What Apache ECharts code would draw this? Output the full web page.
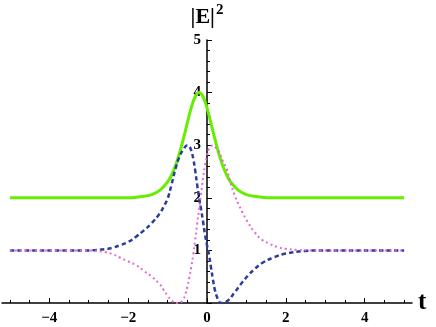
<!DOCTYPE html>
<html><head><meta charset="utf-8">
<script src="https://cdn.jsdelivr.net/npm/echarts@6/dist/echarts.min.js"></script>
<style>html,body{margin:0;padding:0;background:#fff}#c{width:436px;height:327px}</style>
</head><body><div id="c"></div>
<script>
var tGreen = [-5,-3,-2,-1.8,-1.6,-1.4,-1.2,-1.0,-0.9,-0.8,-0.7,-0.6,-0.5,-0.4,-0.3,-0.2,-0.1,0,0.1,0.2,0.3,0.4,0.5,0.6,0.8,1.0,1.2,1.4,1.6,3,5];
var vGreen = [2,2,2,2.01,2.03,2.06,2.14,2.3,2.43,2.61,2.84,3.12,3.42,3.71,3.92,4.0,3.92,3.71,3.42,3.12,2.84,2.61,2.43,2.3,2.14,2.06,2.03,2.01,2.0,2,2];
var tBlue = [-5,-3,-2.6,-2.4,-2.2,-2.0,-1.8,-1.6,-1.4,-1.2,-1.1,-1.0,-0.9,-0.8,-0.7,-0.6,-0.5,-0.45,-0.4,-0.35,-0.3,-0.25,-0.2,-0.15,-0.1,-0.05,0,0.05,0.1,0.15,0.2,0.25,0.3,0.35,0.45,0.55,0.7,0.8,0.9,1.05,1.2,1.4,1.7,2.0,2.5,3.0,5];
var vBlue = [1,1,1.02,1.05,1.1,1.16,1.26,1.38,1.52,1.7,1.83,1.98,2.25,2.55,2.78,2.92,3.0,2.98,2.9,2.75,2.52,2.25,2.0,1.78,1.55,1.3,1.1,0.92,0.68,0.45,0.25,0.12,0.04,0.0,0.01,0.06,0.2,0.3,0.4,0.53,0.64,0.76,0.87,0.94,0.99,1.0,1];
var tPink = [-5,-3,-2.6,-2.4,-2.2,-2.0,-1.8,-1.6,-1.4,-1.2,-1.1,-1.0,-0.9,-0.8,-0.7,-0.6,-0.55,-0.5,-0.45,-0.4,-0.35,-0.3,-0.25,-0.2,-0.15,-0.1,-0.05,0,0.05,0.1,0.15,0.2,0.3,0.4,0.5,0.6,0.7,0.8,0.9,1.0,1.2,1.4,1.6,1.8,2.0,2.3,2.6,5];
var vPink = [1,1,0.97,0.93,0.86,0.79,0.72,0.61,0.5,0.36,0.25,0.14,0.05,0.0,0.0,0.07,0.16,0.3,0.48,0.68,0.92,1.2,1.5,1.78,2.08,2.38,2.62,2.8,2.93,2.98,3.0,2.97,2.88,2.7,2.55,2.28,2.05,1.88,1.72,1.58,1.35,1.2,1.12,1.06,1.03,1.01,1.0,1];
var xMinorTicks = [-5,-4.5,-4,-3.5,-3,-2.5,-2,-1.5,-1,-0.5,0,0.5,1,1.5,2,2.5,3,3.5,4,4.5,5];
var xMajorTicks = [-4,-2,0,2,4];
var yMin = 0, yMax = 5, yStep = 1;

function pairs(t, v){ return t.map(function(x,i){ return [x, v[i]]; }); }
function fmt(v){ return v < 0 ? '\u2212' + Math.abs(v) : String(v); }
var font = 'Liberation Serif';
var gridLeft = 2, gridRight = 24, W = 436;
var xMin = -5.2, xMax = 5.2;
var plotW = W - gridLeft - gridRight;
var yAxisOffset = -plotW * (0 - xMin) / (xMax - xMin);
var chart = echarts.init(document.getElementById('c'));
chart.setOption({
  animation: false,
  grid: {left: gridLeft, right: gridRight, top: 40, bottom: 24, containLabel: false, outerBoundsMode: 'none'},
  xAxis: [{
    type: 'value', min: xMin, max: xMax,
    axisLine: {onZero: false, lineStyle: {color: '#000', width: 1.5}},
    axisTick: {show: true, inside: true, length: 3, customValues: xMinorTicks, lineStyle: {color: '#000', width: 1}},
    axisLabel: {show: false},
    splitLine: {show: false},
    name: 't', nameLocation: 'end', nameGap: 6,
    nameTextStyle: {fontFamily: font, fontWeight: 'bold', fontSize: 25, color: '#000', verticalAlign: 'middle', padding: [0,0,2,0]}
  }, {
    type: 'value', min: xMin, max: xMax, position: 'bottom',
    axisLine: {show: false, onZero: false},
    axisTick: {show: true, inside: true, length: 5, customValues: xMajorTicks, lineStyle: {color: '#000', width: 1}},
    axisLabel: {show: true, customValues: xMajorTicks, margin: 8, formatter: fmt,
      fontFamily: font, fontWeight: 'bold', fontSize: 15, color: '#000'},
    splitLine: {show: false}
  }],
  yAxis: {
    type: 'value', min: yMin, max: yMax, interval: yStep, position: 'left', offset: yAxisOffset,
    axisLine: {show: true, onZero: false, lineStyle: {color: '#000', width: 1.5}},
    axisTick: {show: true, inside: true, length: 5, lineStyle: {color: '#000', width: 1}},
    minorTick: {show: true, splitNumber: 5, length: 3, lineStyle: {color: '#000', width: 1}},
    axisLabel: {margin: 6, formatter: function(v){ return v === 0 ? '' : fmt(v); },
      fontFamily: font, fontWeight: 'bold', fontSize: 15, color: '#000'},
    splitLine: {show: false},
    name: '{a||E|}{b|2}', nameLocation: 'end', nameGap: 12,
    nameTextStyle: {
      rich: {
        a: {fontFamily: font, fontWeight: 'bold', fontSize: 22, color: '#000', verticalAlign: 'bottom'},
        b: {fontFamily: font, fontWeight: 'bold', fontSize: 15, color: '#000', verticalAlign: 'top', padding: [0,0,10,1]}
      }
    }
  },
  series: [{
    type: 'line', data: pairs(tGreen, vGreen), smooth: 0.4, showSymbol: false, z: 3,
    lineStyle: {color: '#66ee00', width: 3}
  }, {
    type: 'line', data: pairs(tBlue, vBlue), smooth: 0.4, showSymbol: false, z: 4,
    lineStyle: {color: '#2d3b9e', width: 2.5, type: [4.5, 3]}
  }, {
    type: 'line', data: pairs(tPink, vPink), smooth: 0.4, showSymbol: false, z: 5,
    lineStyle: {color: '#e46ad0', width: 2, type: [2, 3], cap: 'butt'}
  }]
});
</script></body></html>
